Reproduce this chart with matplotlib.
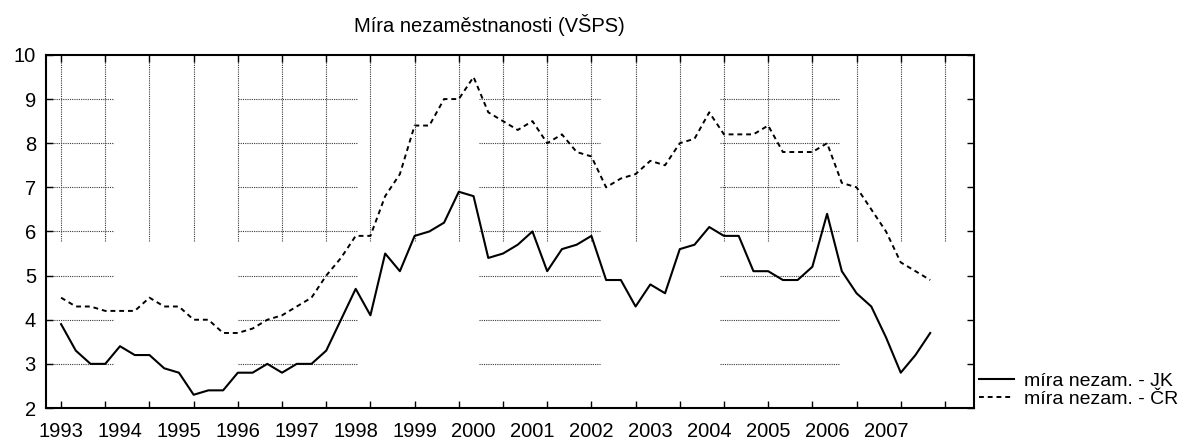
import numpy as np
import matplotlib
matplotlib.use("Agg")
import matplotlib.pyplot as plt

plt.rcParams['font.family'] = ['Liberation Sans', 'DejaVu Sans']

# quarterly data 1993Q1 - 2007Q4
years = list(range(1993, 2008))
jk = [3.9, 3.3, 3.0, 3.0, 3.4, 3.2, 3.2, 2.9, 2.8, 2.3, 2.4, 2.4,
      2.8, 2.8, 3.0, 2.8, 3.0, 3.0, 3.3, 4.0, 4.7, 4.1, 5.5, 5.1,
      5.9, 6.0, 6.2, 6.9, 6.8, 5.4, 5.5, 5.7, 6.0, 5.1, 5.6, 5.7,
      5.9, 4.9, 4.9, 4.3, 4.8, 4.6, 5.6, 5.7, 6.1, 5.9, 5.9, 5.1,
      5.1, 4.9, 4.9, 5.2, 6.4, 5.1, 4.6, 4.3, 3.6, 2.8, 3.2, 3.7]
cr = [4.5, 4.3, 4.3, 4.2, 4.2, 4.2, 4.5, 4.3, 4.3, 4.0, 4.0, 3.7,
      3.7, 3.8, 4.0, 4.1, 4.3, 4.5, 5.0, 5.4, 5.9, 5.9, 6.8, 7.3,
      8.4, 8.4, 9.0, 9.0, 9.5, 8.7, 8.5, 8.3, 8.5, 8.0, 8.2, 7.8,
      7.7, 7.0, 7.2, 7.3, 7.6, 7.5, 8.0, 8.1, 8.7, 8.2, 8.2, 8.2,
      8.4, 7.8, 7.8, 7.8, 8.0, 7.1, 7.0, 6.5, 6.0, 5.3, 5.1, 4.9]

x = np.arange(len(jk))
fs = 14.5

fig = plt.figure(figsize=(12, 4.43), dpi=100)
ax = fig.add_axes([0.038, 0.079, 0.774, 0.797])

# grid (partial, like the original)
grid_kw = dict(color='#3a3a3a', lw=0.8, linestyle=(0, (1, 1)), zorder=1)
ax.vlines(np.arange(0, 61, 3), 5.78, 10, **grid_kw)
for x0, x1 in [(-1.1, 3.6), (12.0, 20.1), (28.4, 36.6), (44.7, 52.9)]:
    ax.hlines(np.arange(3, 10), x0, x1, **grid_kw)

ax.plot(x, jk, color='black', lw=1.5, label='míra nezam. - JK', zorder=3)
ax.plot(x, cr, color='black', lw=1.4, linestyle=(0, (2.5, 2)),
        label='míra nezam. - ČR', zorder=3)

ax.set_xlim(-1.05, 62.0)
ax.set_ylim(2, 10)
ax.xaxis.remove_overlapping_locs = False
ax.set_xticks(np.arange(0, 61, 3))
ax.set_xticklabels([])
ax.set_xticks(np.arange(0, len(years) * 4, 4), minor=True)
ax.set_xticklabels([str(y) for y in years], minor=True)
ax.set_yticks(range(2, 11))

ax.tick_params(axis='both', which='major', direction='in', length=5, width=1,
               top=True, right=True, labelsize=fs)
ax.tick_params(axis='x', which='minor', length=0, pad=10, labelsize=fs)
ax.tick_params(axis='y', pad=7)
for s in ax.spines.values():
    s.set_linewidth(1.5)

fig.text(0.408, 0.928, 'Míra nezaměstnanosti (VŠPS)', ha='center',
         va='baseline', fontsize=fs)

fig.legend(loc='lower left', bbox_to_anchor=(0.808, 0.058), frameon=False,
           fontsize=14, handlelength=1.8, handletextpad=0.5,
           labelspacing=0.0, borderpad=0.0)

fig.savefig('out.png', dpi=100)
